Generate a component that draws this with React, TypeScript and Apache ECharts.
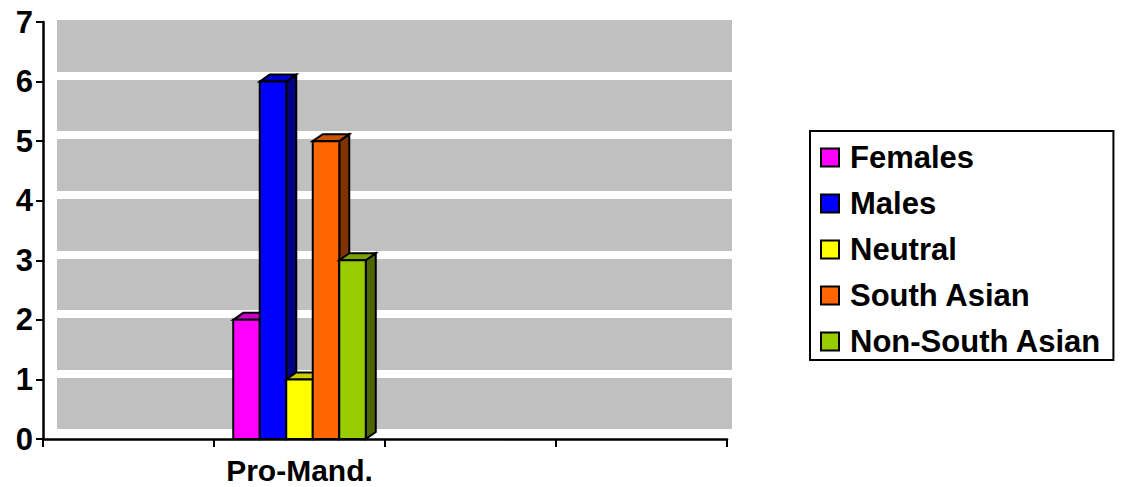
import React, { useEffect, useRef } from "react";
import * as echarts from "echarts";

// Category slots along the floor; only the second one carries data.
const categories = ["", "Pro-Mand.", "", ""];

const seriesNames = ["Females", "Males", "Neutral", "South Asian", "Non-South Asian"];
const females = [null, 2, null, null];
const males = [null, 6, null, null];
const neutral = [null, 1, null, null];
const southAsian = [null, 5, null, null];
const nonSouthAsian = [null, 3, null, null];
const seriesValues = [females, males, neutral, southAsian, nonSouthAsian];

// Front, top and side face colours for each series.
const frontColors = ["#FF00FF", "#0000FF", "#FFFF00", "#FF6600", "#99CC00"];
const topColors = ["#CC00CC", "#0000CC", "#CCCC00", "#CC5200", "#7AA300"];
const sideColors = ["#800080", "#000080", "#808000", "#803300", "#4D6600"];

const yTicks = [0, 1, 2, 3, 4, 5, 6, 7];

const FONT = 'Arial, "Liberation Sans", sans-serif';
const BAR_FRACTION = 0.155; // share of a category slot taken by one bar
const DEPTH_X = 10;
const DEPTH_Y = 7;

function makeRenderItem(seriesIdx: number, count: number) {
  return (params: any, api: any) => {
    const cat = api.value(0);
    const val = api.value(1);
    if (val == null || isNaN(val)) return null;
    const topPt = api.coord([cat, val]);
    const basePt = api.coord([cat, 0]);
    const band = api.size([1, 0])[0];
    const w = band * BAR_FRACTION;
    const x = topPt[0] + (seriesIdx - count / 2) * w;
    const yTop = topPt[1];
    const yBase = basePt[1];
    const stroke = { stroke: "#000", lineWidth: 2, lineJoin: "miter" };
    return {
      type: "group",
      children: [
        {
          type: "polygon",
          shape: {
            points: [
              [x + w, yBase],
              [x + w + DEPTH_X, yBase - DEPTH_Y],
              [x + w + DEPTH_X, yTop - DEPTH_Y],
              [x + w, yTop],
            ],
          },
          style: { fill: sideColors[seriesIdx], ...stroke },
        },
        {
          type: "polygon",
          shape: {
            points: [
              [x, yTop],
              [x + DEPTH_X, yTop - DEPTH_Y],
              [x + w + DEPTH_X, yTop - DEPTH_Y],
              [x + w, yTop],
            ],
          },
          style: { fill: topColors[seriesIdx], ...stroke },
        },
        {
          type: "rect",
          shape: { x, y: yTop, width: w, height: yBase - yTop },
          style: { fill: frontColors[seriesIdx], ...stroke },
        },
      ],
    };
  };
}

export default function App() {
  const ref = useRef<HTMLDivElement>(null);

  useEffect(() => {
    if (!ref.current) return;
    const chart = echarts.init(ref.current, undefined, { renderer: "svg" });

    const series = seriesNames.map((name, i) => ({
      name,
      type: "custom",
      xAxisIndex: 0,
      yAxisIndex: 0,
      z: 5,
      itemStyle: { color: frontColors[i], borderColor: "#000", borderWidth: 2 },
      renderItem: makeRenderItem(i, seriesNames.length),
      data: seriesValues[i].map((v, c) => [c, v]),
    }));

    chart.setOption({
      animation: false,
      backgroundColor: "#fff",
      grid: [
        // main plotting grid (axes at the front of the floor)
        { left: 43, right: 394, top: 22, bottom: 48 },
        // back wall, shifted up and to the right
        { left: 57, right: 389, top: 16, bottom: 54 },
      ],
      xAxis: [
        {
          type: "category",
          gridIndex: 0,
          data: categories,
          boundaryGap: true,
          axisLine: { lineStyle: { color: "#000", width: 2.5 } },
          axisTick: {
            show: true,
            inside: false,
            interval: 0,
            length: 8,
            lineStyle: { color: "#000", width: 2 },
          },
          axisLabel: {
            interval: 0,
            color: "#000",
            fontFamily: FONT,
            fontWeight: "bold",
            fontSize: 30,
            lineHeight: 26,
            margin: 18,
          },
          splitLine: { show: false },
        },
        { type: "value", gridIndex: 1, show: false, min: 0, max: 1 },
      ],
      yAxis: [
        {
          type: "value",
          gridIndex: 0,
          min: yTicks[0],
          max: yTicks[yTicks.length - 1],
          interval: 1,
          axisLine: { show: true, lineStyle: { color: "#000", width: 2.5 } },
          axisTick: { show: true, length: 7, lineStyle: { color: "#000", width: 2 } },
          axisLabel: {
            color: "#000",
            fontFamily: FONT,
            fontWeight: "bold",
            fontSize: 31,
            margin: 10,
          },
          splitLine: { show: false },
        },
        {
          type: "value",
          gridIndex: 1,
          min: yTicks[0],
          max: yTicks[yTicks.length - 1],
          interval: 1,
          axisLine: { show: false },
          axisTick: { show: false },
          axisLabel: { show: false },
          splitArea: { show: true, areaStyle: { color: ["#C0C0C0"] } },
          splitLine: { show: true, lineStyle: { color: "#fff", width: 8 } },
        },
      ],
      legend: {
        orient: "vertical",
        left: 810,
        top: 131,
        padding: [11, 12, 3, 10],
        borderColor: "#000",
        borderWidth: 2,
        backgroundColor: "#fff",
        icon: "rect",
        itemWidth: 18,
        itemHeight: 18,
        itemGap: 15,
        itemStyle: { borderColor: "#000", borderWidth: 2 },
        textStyle: {
          color: "#000",
          fontFamily: FONT,
          fontWeight: "bold",
          fontSize: 31,
          lineHeight: 30,
          padding: [0, 0, 0, 6],
        },
        data: seriesNames,
      },
      series,
    });

    return () => chart.dispose();
  }, []);

  return (
    <div
      ref={ref}
      style={{ position: "fixed", left: 0, top: 0, width: 1121, height: 487 }}
    />
  );
}
